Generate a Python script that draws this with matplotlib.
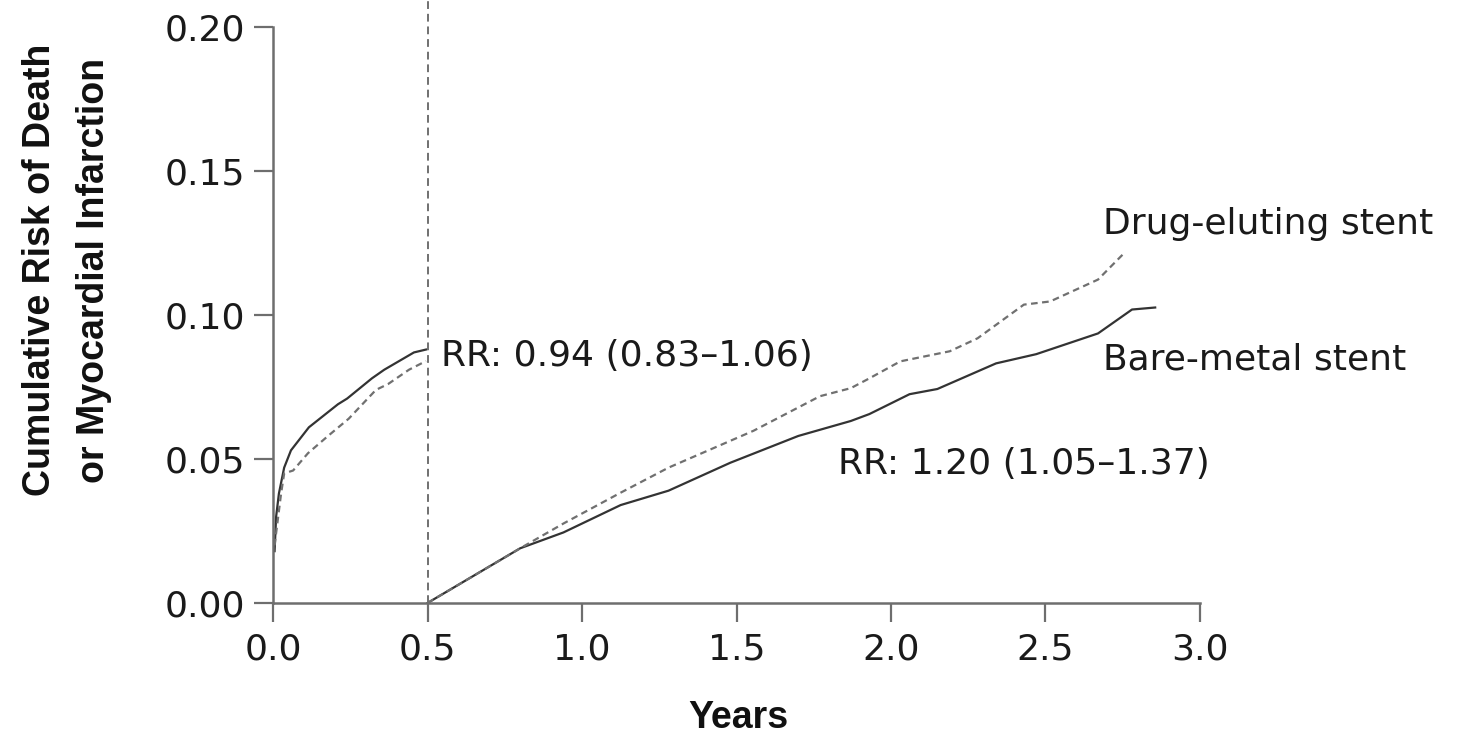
import matplotlib
matplotlib.use("Agg")
import matplotlib.pyplot as plt

# ---- data ----
bms_early_t = [0.005, 0.010, 0.019, 0.036, 0.058, 0.116, 0.21, 0.24, 0.32, 0.36, 0.456, 0.495]
bms_early_y = [0.018, 0.030, 0.038, 0.047, 0.053, 0.061, 0.069, 0.071, 0.078, 0.081, 0.087, 0.088]
des_early_t = [0.005, 0.026, 0.036, 0.065, 0.113, 0.178, 0.245, 0.333, 0.372, 0.44, 0.495]
des_early_y = [0.020, 0.038, 0.045, 0.046, 0.052, 0.058, 0.064, 0.074, 0.076, 0.081, 0.084]

bms_late_t = [0.5, 0.80, 0.94, 1.125, 1.28, 1.48, 1.70, 1.87, 1.93, 2.06, 2.15, 2.34, 2.47, 2.67, 2.78, 2.855]
bms_late_y = [0.0, 0.019, 0.0245, 0.034, 0.039, 0.0487, 0.058, 0.0632, 0.0656, 0.0725, 0.0743, 0.0832, 0.0864, 0.0936, 0.1019, 0.1026]
des_late_t = [0.5, 0.80, 0.94, 1.125, 1.28, 1.555, 1.77, 1.87, 1.93, 2.03, 2.19, 2.28, 2.43, 2.515, 2.67, 2.75]
des_late_y = [0.0, 0.019, 0.0276, 0.0383, 0.047, 0.0598, 0.0718, 0.0746, 0.078, 0.0839, 0.0874, 0.0919, 0.1036, 0.1047, 0.1123, 0.121]

x_ticks = [0.0, 0.5, 1.0, 1.5, 2.0, 2.5, 3.0]
x_ticklabels = ["0.0", "0.5", "1.0", "1.5", "2.0", "2.5", "3.0"]
y_ticks = [0.00, 0.05, 0.10, 0.15, 0.20]
y_ticklabels = ["0.00", "0.05", "0.10", "0.15", "0.20"]

landmark = 0.5
rr_early = "RR: 0.94 (0.83\u20131.06)"
rr_late = "RR: 1.20 (1.05\u20131.37)"
lab_des = "Drug-eluting stent"
lab_bms = "Bare-metal stent"
x_title = "Years"
y_title = "Cumulative Risk of Death\nor Myocardial Infarction"

plt.rcParams['font.family'] = ['DejaVu Sans']

fig = plt.figure(figsize=(14.57, 7.34), dpi=100)
ax = fig.add_axes([0.1874, 0.1785, 0.6362, 0.7847])

solid_c = "#333333"
dash_c = "#707070"
ax.plot(bms_early_t, bms_early_y, color=solid_c, lw=1.6)
ax.plot(des_early_t, des_early_y, color=dash_c, lw=1.6, linestyle=(0, (3, 2)))
ax.plot(bms_late_t, bms_late_y, color=solid_c, lw=1.6)
ax.plot(des_late_t, des_late_y, color=dash_c, lw=1.6, linestyle=(0, (3, 2)))

ax.plot([landmark, landmark], [0, 0.212], color="#707070", lw=1.4,
        linestyle=(0, (4, 2.5)), clip_on=False)

ax.set_xlim(0, 3.0)
ax.set_ylim(0, 0.20)
ax.set_xticks(x_ticks)
ax.set_xticklabels(x_ticklabels)
ax.set_yticks(y_ticks)
ax.set_yticklabels(y_ticklabels)

for s in ["top", "right"]:
    ax.spines[s].set_visible(False)
for s in ["left", "bottom"]:
    ax.spines[s].set_color("#6e6e6e")
    ax.spines[s].set_linewidth(1.8)
ax.tick_params(axis="both", direction="out", length=14, width=1.6, color="#6e6e6e",
               labelsize=26, labelcolor="#1a1a1a")
ax.tick_params(axis="x", pad=7)
ax.tick_params(axis="y", pad=6)

lab_font = ['Liberation Sans', 'DejaVu Sans']
fig.text(738 / 1457, 1 - 728 / 734, x_title, family=lab_font, fontsize=27,
         fontweight="bold", ha="center", va="baseline", color="#111111")
fig.text(67 / 1457, 1 - 270 / 734, y_title, family=lab_font, fontsize=27,
         fontweight="bold", ha="center", va="center", rotation=90,
         multialignment="center", linespacing=1.65, color="#111111")

txt_kw = dict(fontsize=26, color="#1a1a1a", va="center", ha="left")
ax.text(0.545, 0.0857, rr_early, **txt_kw)
ax.text(1.83, 0.0484, rr_late, **txt_kw)
ax.text(2.685, 0.1316, lab_des, clip_on=False, **txt_kw)
ax.text(2.685, 0.0846, lab_bms, clip_on=False, **txt_kw)

fig.savefig("out.png", dpi=100)
